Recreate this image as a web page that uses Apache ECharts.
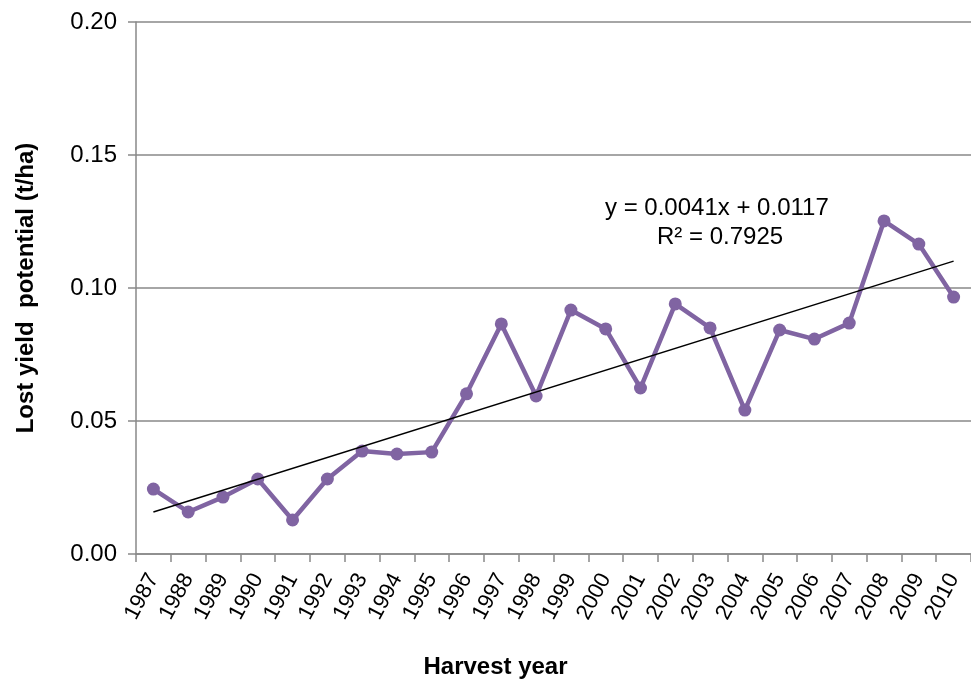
<!DOCTYPE html>
<html><head><meta charset="utf-8">
<script src="https://cdn.jsdelivr.net/npm/echarts@6/dist/echarts.min.js"></script>
<style>html,body{margin:0;padding:0;background:#fff}#c{width:971px;height:686px}</style>
</head><body><div id="c"></div>
<script>
var years = ['1987','1988','1989','1990','1991','1992','1993','1994','1995','1996','1997','1998','1999','2000','2001','2002','2003','2004','2005','2006','2007','2008','2009','2010'];
var lostYield = [0.0244,0.0158,0.0214,0.0282,0.0128,0.0282,0.0387,0.0376,0.0383,0.0602,0.0865,0.0594,0.0917,0.0846,0.0624,0.0940,0.0850,0.0541,0.0842,0.0808,0.0868,0.1252,0.1165,0.0966];
var trendSlope = 0.0041, trendIntercept = 0.0117;
var yTicks = [0, 0.05, 0.10, 0.15, 0.20];
var F = 'Liberation Sans, Arial, sans-serif';
var n = years.length;
var chart = echarts.init(document.getElementById('c'));
chart.setOption({
  animation:false,
  grid:{left:136,right:0,top:22,bottom:132},
  xAxis:{type:'category',data:years,boundaryGap:true,
    axisLine:{lineStyle:{color:'#898989',width:1.5}},
    axisTick:{show:true,length:8,lineStyle:{color:'#898989',width:1.5},interval:0},
    axisLabel:{rotate:62,interval:0,color:'#000',fontFamily:F,fontSize:22,margin:21},
    name:'Harvest year',nameLocation:'middle',nameGap:101,
    nameTextStyle:{fontFamily:F,fontSize:24,fontWeight:'bold',color:'#000',padding:[0,116,0,0]}},
  yAxis:{type:'value',min:0,max:0.2,interval:0.05,
    axisLine:{show:true,lineStyle:{color:'#898989',width:1.5}},
    axisTick:{show:true,length:8,lineStyle:{color:'#898989',width:1.5}},
    splitLine:{lineStyle:{color:'#898989',width:1.5}},
    axisLabel:{color:'#000',fontFamily:F,fontSize:24,margin:19,formatter:function(v){return v.toFixed(2);}},
    name:'Lost yield  potential (t/ha)',nameLocation:'middle',nameGap:98,
    nameTextStyle:{fontFamily:F,fontSize:24,fontWeight:'bold',color:'#000'}},
  series:[{type:'line',data:lostYield,symbol:'circle',symbolSize:13,
    lineStyle:{color:'#8064A2',width:4.5},itemStyle:{color:'#8064A2'},
    markLine:{silent:true,symbol:'none',label:{show:false},
      lineStyle:{color:'#000',width:1.5,type:'solid'},
      data:[[{coord:[0,trendSlope*1+trendIntercept]},{coord:[n-1,trendSlope*n+trendIntercept]}]]}}],
  graphic:[
    {type:'text',left:605,top:196,style:{text:'y = 0.0041x + 0.0117',font:'24px '+F,fill:'#000'}},
    {type:'text',left:657,top:225,style:{text:'R² = 0.7925',font:'24px '+F,fill:'#000'}}
  ]
});
</script></body></html>
